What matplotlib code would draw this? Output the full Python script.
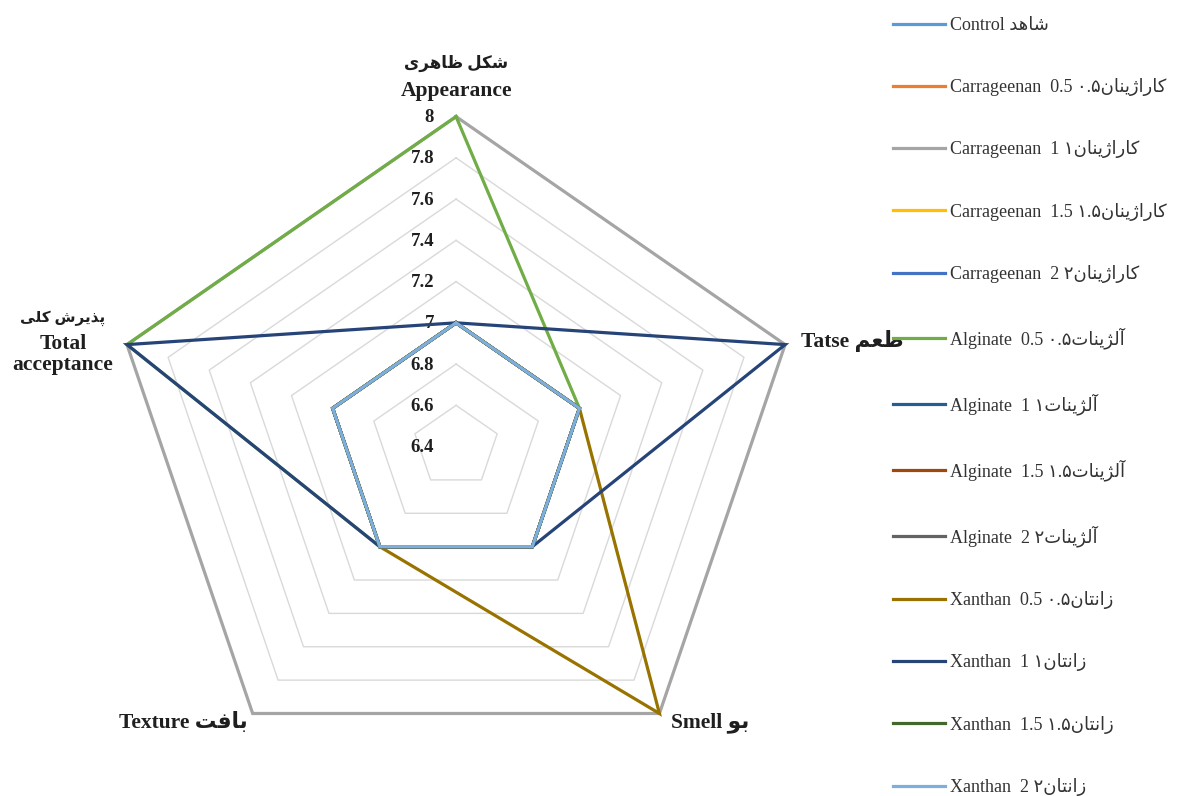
import numpy as np
import matplotlib
matplotlib.use('Agg')
import matplotlib.pyplot as plt
from matplotlib.transforms import offset_copy

# --- data -------------------------------------------------------------
axes_en = ['Appearance', 'Tatse', 'Smell', 'Texture', 'Total\nacceptance']
axes_fa = ['شکل ظاهری', 'طعم', 'بو', 'بافت', 'پذیرش کلی']
ticks = [6.4, 6.6, 6.8, 7.0, 7.2, 7.4, 7.6, 7.8, 8.0]
tick_labels = ['6.4', '6.6', '6.8', '7', '7.2', '7.4', '7.6', '7.8', '8']

series_en = ['Control', 'Carrageenan  0.5', 'Carrageenan  1', 'Carrageenan  1.5', 'Carrageenan  2',
             'Alginate  0.5', 'Alginate  1', 'Alginate  1.5', 'Alginate  2',
             'Xanthan  0.5', 'Xanthan  1', 'Xanthan  1.5', 'Xanthan  2']
series_fa = ['شاهد', 'کاراژینان', 'کاراژینان', 'کاراژینان', 'کاراژینان',
             'آلژینات', 'آلژینات', 'آلژینات', 'آلژینات',
             'زانتان', 'زانتان', 'زانتان', 'زانتان']
series_fa_num = ['', '۰.۵', '۱', '۱.۵', '۲', '۰.۵', '۱', '۱.۵', '۲', '۰.۵', '۱', '۱.۵', '۲']

# order: Appearance, Tatse, Smell, Texture, Total acceptance
control = [7, 7, 7, 7, 7]
carr_05 = [7, 7, 7, 7, 7]
carr_1 = [8, 8, 8, 8, 8]
carr_15 = [7, 7, 7, 7, 7]
carr_2 = [7, 7, 7, 7, 7]
alg_05 = [8, 7, 7, 7, 8]
alg_1 = [7, 7, 7, 7, 7]
alg_15 = [7, 7, 7, 7, 7]
alg_2 = [7, 7, 7, 7, 7]
xan_05 = [7, 7, 8, 7, 7]
xan_1 = [7, 8, 7, 7, 8]
xan_15 = [7, 7, 7, 7, 7]
xan_2 = [7, 7, 7, 7, 7]
values = [control, carr_05, carr_1, carr_15, carr_2, alg_05, alg_1, alg_15, alg_2,
          xan_05, xan_1, xan_15, xan_2]

colors = ['#5B9BD5', '#ED7D31', '#A5A5A5', '#FFC000', '#4472C4', '#70AD47',
          '#255E91', '#9E480E', '#636363', '#997300', '#264478', '#43682B', '#7CAFDD']

# --- minimal persian shaping (matplotlib has no complex text layout) -----
forms = {
    'ا': ('\uFE8D', '\uFE8E', None, None),
    'آ': ('\uFE81', '\uFE82', None, None),
    'ب': ('\uFE8F', '\uFE90', '\uFE91', '\uFE92'),
    'پ': ('\uFB56', '\uFB57', '\uFB58', '\uFB59'),
    'ت': ('\uFE95', '\uFE96', '\uFE97', '\uFE98'),
    'د': ('\uFEA9', '\uFEAA', None, None),
    'ذ': ('\uFEAB', '\uFEAC', None, None),
    'ر': ('\uFEAD', '\uFEAE', None, None),
    'ز': ('\uFEAF', '\uFEB0', None, None),
    'ژ': ('\uFB8A', '\uFB8B', None, None),
    'ش': ('\uFEB5', '\uFEB6', '\uFEB7', '\uFEB8'),
    'ط': ('\uFEC1', '\uFEC2', '\uFEC3', '\uFEC4'),
    'ظ': ('\uFEC5', '\uFEC6', '\uFEC7', '\uFEC8'),
    'ع': ('\uFEC9', '\uFECA', '\uFECB', '\uFECC'),
    'ف': ('\uFED1', '\uFED2', '\uFED3', '\uFED4'),
    'ک': ('\uFB8E', '\uFB8F', '\uFB90', '\uFB91'),
    'ل': ('\uFEDD', '\uFEDE', '\uFEDF', '\uFEE0'),
    'م': ('\uFEE1', '\uFEE2', '\uFEE3', '\uFEE4'),
    'ن': ('\uFEE5', '\uFEE6', '\uFEE7', '\uFEE8'),
    'ه': ('\uFEE9', '\uFEEA', '\uFEEB', '\uFEEC'),
    'و': ('\uFEED', '\uFEEE', None, None),
    'ی': ('\uFBFC', '\uFBFD', '\uFBFE', '\uFBFF'),
}

def shape(text):
    out = []
    for i, ch in enumerate(text):
        if ch not in forms:
            out.append(ch)
            continue
        prev = text[i - 1] if i > 0 else None
        nxt = text[i + 1] if i + 1 < len(text) else None
        jp = prev in forms and forms[prev][2] is not None
        jn = nxt in forms and forms[ch][2] is not None
        f = forms[ch]
        if jp and jn:
            out.append(f[3])
        elif jp:
            out.append(f[1])
        elif jn:
            out.append(f[2])
        else:
            out.append(f[0])
    return ''.join(reversed(out))

fam = ['Liberation Serif', 'DejaVu Sans']
txt_col = '#1f1f1f'

fig = plt.figure(figsize=(11.87, 7.96), dpi=100)
ax = fig.add_axes([0.0927, 0.0245, 0.583, 0.829], projection='polar')
ax.set_aspect('auto')
ax.set_theta_offset(np.pi / 2)
ax.set_theta_direction(-1)
ax.set_ylim(ticks[0], ticks[-1])
ax.grid(False)
ax.set_xticks([])
ax.set_yticks([])
ax.spines['polar'].set_visible(False)
ax.patch.set_visible(False)

n = len(axes_en)
theta = np.arange(n) * 2 * np.pi / n
theta_c = np.append(theta, theta[0])

# pentagon gridlines
for t in ticks[1:]:
    ax.plot(theta_c, [t] * (n + 1), color='#D9D9D9', lw=1.0, clip_on=False, zorder=1)

# tick labels left of the vertical axis
tr = offset_copy(ax.transData, fig=fig, x=-22, y=-1, units='dots')
for t, lab in zip(ticks, tick_labels):
    ax.text(0, t, lab, transform=tr, ha='right', va='center', fontsize=13.5,
            fontweight='bold', family=fam, color=txt_col)

handles = []
for vals, col, en, fa, num in zip(values, colors, series_en, series_fa, series_fa_num):
    v = list(vals) + [vals[0]]
    h, = ax.plot(theta_c, v, color=col, lw=2.3, clip_on=False, zorder=3,
                 solid_joinstyle='miter')
    h.set_label(en + ' ' + num + shape(fa))
    handles.append(h)

# category labels
en_kw = dict(family=fam, fontweight='bold', fontsize=15.5, color=txt_col,
             textcoords='offset pixels')
fa_kw = dict(family=fam, fontweight='bold', fontsize=12, color=txt_col,
             textcoords='offset pixels')
ax.annotate(axes_en[0], xy=(theta[0], 8), xytext=(0, 26), ha='center', va='center', **en_kw)
ax.annotate(shape(axes_fa[0]), xy=(theta[0], 8), xytext=(0, 53), ha='center', va='center', **fa_kw)
ax.annotate(axes_en[1] + ' ' + shape(axes_fa[1]), xy=(theta[1], 8), xytext=(16, 4),
            ha='left', va='center', **en_kw)
ax.annotate(axes_en[2] + ' ' + shape(axes_fa[2]), xy=(theta[2], 8), xytext=(12, -9),
            ha='left', va='center', **en_kw)
ax.annotate(axes_en[3] + ' ' + shape(axes_fa[3]), xy=(theta[3], 8), xytext=(-5, -9),
            ha='right', va='center', **en_kw)
ax.annotate(axes_en[4], xy=(theta[4], 8), xytext=(-64, -10), ha='center', va='center',
            linespacing=1.02, **en_kw)
ax.annotate(shape(axes_fa[4]), xy=(theta[4], 8), xytext=(-64, 26), ha='center', va='center',
            **dict(fa_kw, fontsize=11))

leg = fig.legend(handles=handles, loc='upper left', bbox_to_anchor=(893 / 1187, 1 - 17 / 796),
                 frameon=False, borderpad=0, borderaxespad=0, handlelength=2.9,
                 handletextpad=0.28, labelspacing=2.45,
                 prop={'family': fam, 'size': 13})
for t in leg.get_texts():
    t.set_color('#333333')

fig.savefig('out.png', dpi=100)
